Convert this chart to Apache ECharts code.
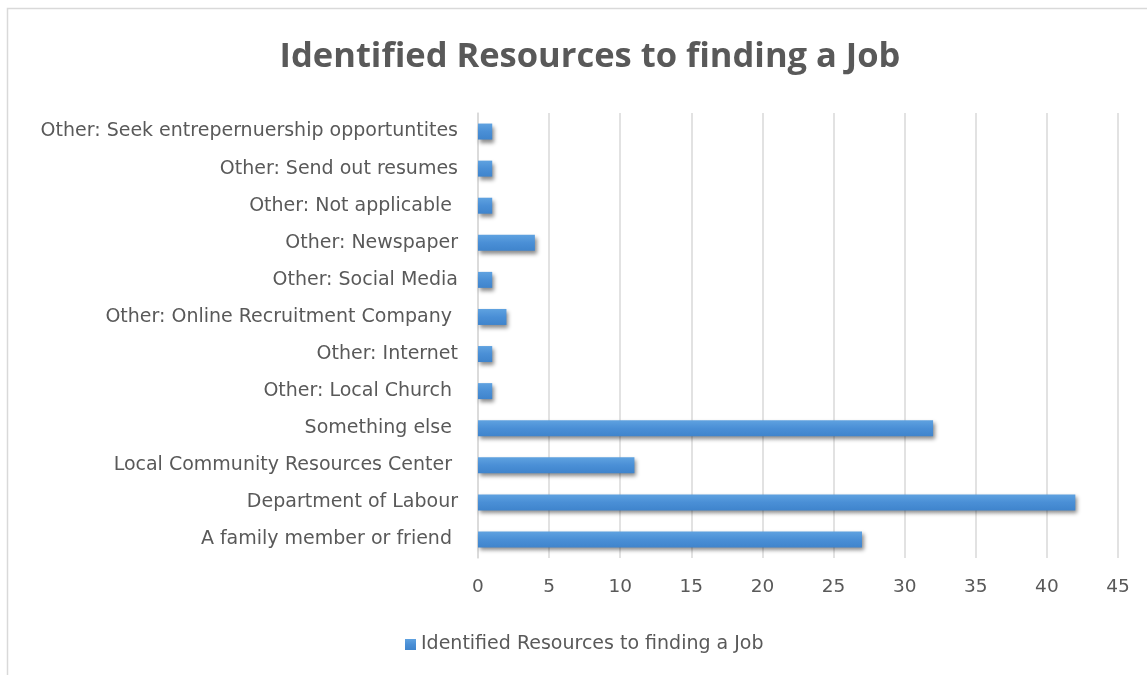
<!DOCTYPE html>
<html>
<head>
<meta charset="utf-8">
<script src="https://cdn.jsdelivr.net/npm/echarts@6/dist/echarts.min.js"></script>
<style>
  html, body { margin: 0; padding: 0; background: #ffffff; }
  #chart { width: 1147px; height: 675px; }
</style>
</head>
<body>
<div id="chart"></div>
<script>
// Resource categories, listed bottom-to-top as they appear on the axis
const categories = [
  'A family member or friend ',
  'Department of Labour',
  'Local Community Resources Center ',
  'Something else ',
  'Other: Local Church ',
  'Other: Internet',
  'Other: Online Recruitment Company ',
  'Other: Social Media',
  'Other: Newspaper',
  'Other: Not applicable ',
  'Other: Send out resumes',
  'Other: Seek entrepernuership opportuntites'
];
const counts = [27, 42, 11, 32, 1, 1, 2, 1, 4, 1, 1, 1];
const xTicks = [0, 5, 10, 15, 20, 25, 30, 35, 40, 45];

const seriesName = 'Identified Resources to finding a Job';
const textColor = '#595959';
const labelFont = '"DejaVu Sans", sans-serif';
const titleFont = '"Open Sans", "Noto Sans", sans-serif';

const chart = echarts.init(document.getElementById('chart'), null, { renderer: 'canvas' });

chart.setOption({
  backgroundColor: '#ffffff',
  animation: false,
  graphic: [{
    type: 'rect',
    shape: { x: 7.5, y: 8.5, width: 1200, height: 700 },
    style: { fill: 'none', stroke: '#d9d9d9', lineWidth: 1.5 },
    silent: true,
    z: -10
  }],
  title: {
    text: seriesName,
    left: 585,
    textAlign: 'center',
    top: 35,
    textStyle: { color: textColor, fontFamily: titleFont, fontSize: 34.5, fontWeight: 'bold' }
  },
  legend: {
    top: 630,
    left: 400,
    orient: 'horizontal',
    icon: 'rect',
    itemWidth: 11,
    itemHeight: 11,
    itemGap: 9,
    textStyle: { color: textColor, fontFamily: labelFont, fontSize: 19 },
    data: [seriesName]
  },
  grid: { left: 478, right: 29, top: 113, bottom: 117, containLabel: false },
  xAxis: {
    type: 'value',
    min: xTicks[0],
    max: xTicks[xTicks.length - 1],
    interval: 5,
    axisLine: { show: false },
    axisTick: { show: false },
    axisLabel: { color: textColor, fontFamily: labelFont, fontSize: 18.5, margin: 20 },
    splitLine: { show: true, lineStyle: { color: '#d9d9d9', width: 1.5 } }
  },
  yAxis: {
    type: 'category',
    data: categories,
    axisLine: { show: true, lineStyle: { color: '#d9d9d9', width: 1.5 } },
    axisTick: { show: false },
    axisLabel: { color: textColor, fontFamily: labelFont, fontSize: 19, margin: 20 }
  },
  series: [{
    name: seriesName,
    type: 'bar',
    data: counts,
    barWidth: 16,
    itemStyle: {
      color: new echarts.graphic.LinearGradient(0, 0, 0, 1, [
        { offset: 0, color: '#5fa2e0' },
        { offset: 0.5, color: '#4a8fd6' },
        { offset: 1, color: '#3f84cc' }
      ]),
      shadowColor: 'rgba(0,0,0,0.45)',
      shadowBlur: 4,
      shadowOffsetX: 2,
      shadowOffsetY: 3
    }
  }]
});
</script>
</body>
</html>
